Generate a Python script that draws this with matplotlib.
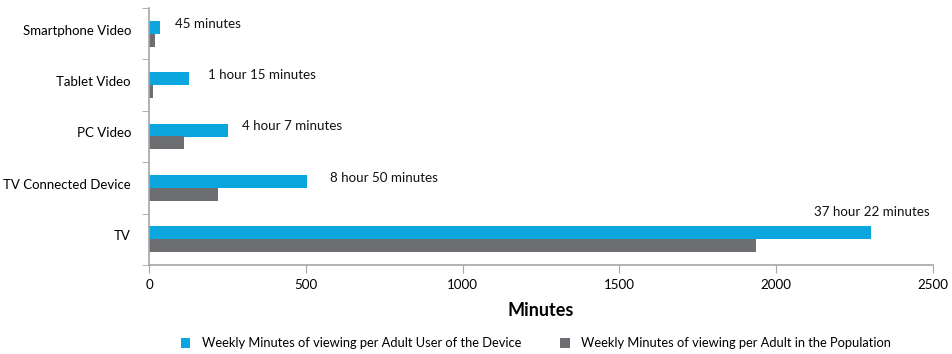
import numpy as np
import matplotlib
matplotlib.use("Agg")
import matplotlib.pyplot as plt
from matplotlib.transforms import ScaledTranslation

plt.rcParams['font.family'] = ['Lato', 'DejaVu Sans']

# data (minutes per week), bottom to top
categories = ['TV', 'TV Connected Device', 'PC Video', 'Tablet Video', 'Smartphone Video']
user_minutes = [2302, 503, 252, 128, 35]
population_minutes = [1936, 220, 111, 13, 19]
time_labels = ['37 hour 22 minutes', '8 hour 50 minutes', '4 hour 7 minutes',
               '1 hour 15 minutes', '45 minutes']
label_x = [2121, 578, 297, 189, 83]

blue = '#0aa6dd'
gray = '#6d6e71'
spine_col = '#a6a6a6'

fig = plt.figure(figsize=(9.52, 3.54), dpi=100)
ax = fig.add_axes([149 / 952, (354 - 265) / 354, (933 - 149) / 952, (265 - 8) / 354])

y = np.arange(len(categories))
h = 0.25
ax.barh(y + h / 2, user_minutes, height=h, color=blue,
        label='Weekly Minutes of viewing per Adult User of the Device')
ax.barh(y - h / 2, population_minutes, height=h, color=gray,
        label='Weekly Minutes of viewing per Adult in the Population')

# duration labels next to the user bars
for i, (txt, lx) in enumerate(zip(time_labels, label_x)):
    dy = 0.4 if i == 0 else 0.07
    ax.text(lx, y[i] + h / 2 + dy, txt, fontsize=9.6, va='center', ha='left', color='#111111')

ax.set_xlim(0, 2500)
ax.set_ylim(-0.5, len(categories) - 0.5)
ax.set_xticks([0, 500, 1000, 1500, 2000, 2500])
ax.set_yticks(y)
ax.set_yticklabels(categories)
ax.set_yticks(np.arange(-0.5, len(categories)), minor=True)
ax.tick_params(axis='y', which='major', length=0, pad=13, labelsize=9.5)
ax.tick_params(axis='y', which='minor', length=5, color=spine_col)
ax.tick_params(axis='x', length=6, color=spine_col, labelsize=9.6, pad=4)

# category names sit a little above the group centre
shift = ScaledTranslation(0, 3 / 72, fig.dpi_scale_trans)
for lab in ax.get_yticklabels():
    lab.set_transform(lab.get_transform() + shift)

for s in ['top', 'right']:
    ax.spines[s].set_visible(False)
for s in ['left', 'bottom']:
    ax.spines[s].set_color(spine_col)
    ax.spines[s].set_linewidth(1.2)

ax.set_xlabel('Minutes', fontsize=13, fontweight='bold', labelpad=8)

handles, labels = ax.get_legend_handles_labels()
fig.legend(handles, labels, loc='lower center', bbox_to_anchor=(0.563, -0.02), ncol=2,
           frameon=False, fontsize=9.3, handlelength=0.75, handleheight=0.75,
           columnspacing=3.0, handletextpad=0.9)

fig.savefig('out.png', dpi=100)
